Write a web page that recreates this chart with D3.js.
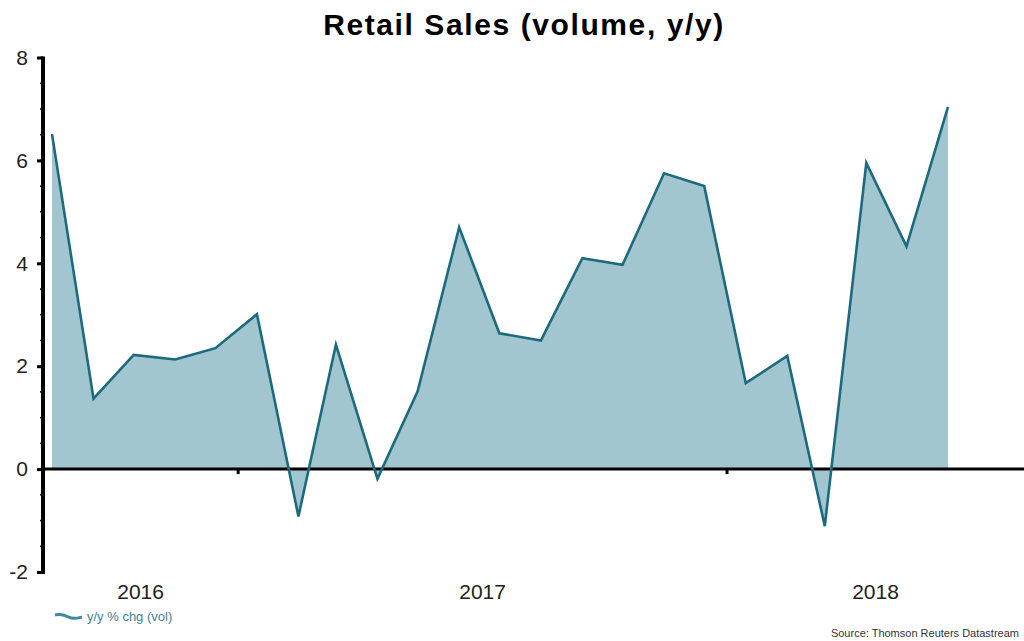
<!DOCTYPE html>
<html>
<head>
<meta charset="utf-8">
<script src="https://cdn.jsdelivr.net/npm/d3@7"></script>
<style>
  html, body { margin: 0; padding: 0; background: #fff; }
  svg { display: block; font-family: "Liberation Sans", Arial, sans-serif; }
</style>
</head>
<body>
<svg id="chart" width="1024" height="641"></svg>
<script>
// Monthly retail sales volume, year-over-year % change
const months = ["2016-08","2016-09","2016-10","2016-11","2016-12",
  "2017-01","2017-02","2017-03","2017-04","2017-05","2017-06","2017-07",
  "2017-08","2017-09","2017-10","2017-11","2017-12",
  "2018-01","2018-02","2018-03","2018-04","2018-05","2018-06"];
const yoyChange = [6.51, 1.37, 2.22, 2.13, 2.35,
  3.01, -0.92, 2.42, -0.19, 1.51, 4.70, 2.64,
  2.50, 4.10, 3.97, 5.75, 5.50,
  1.67, 2.20, -1.11, 5.95, 4.33, 7.04];
const yTicks = [-2, 0, 2, 4, 6, 8];
const yearLabels = ["2016", "2017", "2018"];

const title = "Retail Sales (volume, y/y)";
const legendLabel = "y/y % chg (vol)";
const sourceNote = "Source: Thomson Reuters Datastream";

const lineColor = "#1d6a7f";
const fillColor = "#a1c6cf";

const svg = d3.select("#chart");
const parseMonth = d3.timeParse("%Y-%m");
const data = months.map((m, i) => {
  const d = parseMonth(m);
  d.setDate(15);
  return { date: d, value: yoyChange[i] };
});

// Data points span 52..948; plot frame runs from the y axis to the right edge
const x = d3.scaleTime()
  .domain(d3.extent(data, d => d.date))
  .range([52, 948]);
const plotLeft = 43, plotRight = 1024;

const y = d3.scaleLinear().domain([-2, 8]).range([572, 57.5]);

// Area fill down to zero
const area = d3.area()
  .x(d => x(d.date))
  .y0(y(0))
  .y1(d => y(d.value));
svg.append("path")
  .datum(data)
  .attr("d", area)
  .attr("fill", fillColor);

// Zero line across the plot
svg.append("line")
  .attr("x1", plotLeft).attr("x2", plotRight)
  .attr("y1", y(0)).attr("y2", y(0))
  .attr("stroke", "#000").attr("stroke-width", 3);

// Year boundary ticks on the zero line
const yearStarts = [parseMonth("2017-01"), parseMonth("2018-01")];
svg.selectAll(".yeartick")
  .data(yearStarts)
  .enter().append("line")
  .attr("x1", d => x(d)).attr("x2", d => x(d))
  .attr("y1", y(0)).attr("y2", y(0) + 5)
  .attr("stroke", "#000").attr("stroke-width", 3);

// Series line
const line = d3.line()
  .x(d => x(d.date))
  .y(d => y(d.value));
svg.append("path")
  .datum(data)
  .attr("d", line)
  .attr("fill", "none")
  .attr("stroke", lineColor)
  .attr("stroke-width", 2.6)
  .attr("stroke-linejoin", "miter");

// Y axis with minor ticks
const minor = d3.range(-2, 8.01, 0.5);
svg.selectAll(".minor")
  .data(minor)
  .enter().append("line")
  .attr("x1", plotLeft - 3).attr("x2", plotLeft)
  .attr("y1", d => y(d)).attr("y2", d => y(d))
  .attr("stroke", "#000").attr("stroke-width", 1.5);

const yAxis = d3.axisLeft(y)
  .tickValues(yTicks)
  .tickFormat(d => String(d))
  .tickSize(6)
  .tickPadding(9);
const yg = svg.append("g")
  .attr("transform", `translate(${plotLeft},0)`)
  .call(yAxis);
yg.select(".domain").remove();
yg.selectAll(".tick line").attr("stroke", "#000").attr("stroke-width", 3);
yg.selectAll(".tick text")
  .attr("font-size", 21).attr("fill", "#222")
  .attr("font-family", "Liberation Sans, Arial, sans-serif");
svg.append("line")
  .attr("x1", plotLeft).attr("x2", plotLeft)
  .attr("y1", y(8) - 1).attr("y2", y(-2) + 2)
  .attr("stroke", "#000").attr("stroke-width", 4);

// Year labels centred in each year's span within the plot
const bounds = [x.invert(plotLeft), ...yearStarts, x.invert(plotRight)];
svg.selectAll(".year")
  .data(yearLabels)
  .enter().append("text")
  .attr("x", (d, i) => (Math.max(plotLeft, x(bounds[i])) + Math.min(plotRight, x(bounds[i + 1]))) / 2)
  .attr("y", 599)
  .attr("text-anchor", "middle")
  .attr("font-size", 21)
  .attr("fill", "#222")
  .text(d => d);

// Title
svg.append("text")
  .attr("x", 524).attr("y", 35)
  .attr("text-anchor", "middle")
  .attr("font-size", 30)
  .attr("font-weight", "bold")
  .attr("letter-spacing", 1.6)
  .attr("fill", "#000")
  .text(title);

// Legend
const wave = d3.line().curve(d3.curveBasis);
svg.append("path")
  .attr("d", wave([[55, 615], [62, 614], [68, 617], [74, 619], [82, 617]]))
  .attr("fill", "none")
  .attr("stroke", "#3f8aa0")
  .attr("stroke-width", 3);
svg.append("text")
  .attr("x", 87).attr("y", 621)
  .attr("font-size", 13)
  .attr("fill", "#3f7f95")
  .text(legendLabel);

// Source note
svg.append("text")
  .attr("x", 1019).attr("y", 637)
  .attr("text-anchor", "end")
  .attr("font-size", 11)
  .attr("fill", "#333")
  .text(sourceNote);
</script>
</body>
</html>
